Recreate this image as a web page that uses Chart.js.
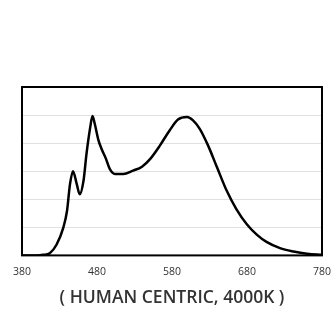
<!DOCTYPE html>
<html><head><meta charset="utf-8">
<script src="https://cdn.jsdelivr.net/npm/chart.js@4"></script>
<style>html,body{margin:0;padding:0;background:#fff}#wrap{width:336px;height:309px}</style>
</head><body><div id="wrap"><canvas id="c" width="336" height="309"></canvas></div>
<script>
const wavelengths = [380,400,408,417,426,435,440,444,448,453,457,462,466,471,474,477,482,486,492,497,504,515,528,540,551,564,577,588,600,608,617,628,640,653,666,680,693,706,724,742,760,780];
const intensity   = [0,0,0.02,0.08,0.38,0.98,1.58,2.54,3.0,2.54,2.18,2.66,3.62,4.57,4.97,4.69,4.10,3.8,3.44,3.08,2.90,2.90,3.02,3.16,3.44,3.92,4.46,4.84,4.93,4.81,4.51,3.92,3.14,2.30,1.64,1.10,0.74,0.48,0.26,0.14,0.06,0.02];
const xTicks = [380,480,580,680,780];
const titleText = '( HUMAN CENTRIC, 4000K )';

const boxPlugin = {
  id:'box',
  afterDatasetsDraw(chart){
    const {ctx, chartArea:a} = chart;
    ctx.save();
    ctx.strokeStyle = '#000';
    ctx.lineWidth = 2;
    ctx.strokeRect(a.left, a.top, a.right-a.left, a.bottom-a.top);
    ctx.restore();
  }
};

new Chart(document.getElementById('c'), {
  type:'line',
  data:{datasets:[{
    data: wavelengths.map((w,i)=>({x:w,y:intensity[i]})),
    borderColor:'#000', borderWidth:2.5, pointRadius:0, fill:false,
    cubicInterpolationMode:'monotone'
  }]},
  options:{
    responsive:false, animation:false,
    layout:{padding:{left:22,right:14,top:87,bottom:0}},
    plugins:{
      legend:{display:false}, tooltip:{enabled:false},
      title:{display:true, position:'bottom', text:titleText, color:'#333',
        font:{family:'Open Sans', size:17.5, weight:'600'}, padding:{top:8,bottom:0}}
    },
    scales:{
      x:{type:'linear', min:380, max:780,
        afterBuildTicks(s){ s.ticks = xTicks.map(v=>({value:v})); },
        grid:{display:false}, border:{display:false},
        ticks:{color:'#333', font:{family:'Open Sans', size:10.5}, padding:2, maxRotation:0}
      },
      y:{min:0, max:6, ticks:{display:false, stepSize:1},
        grid:{color:'#e0e0e0', lineWidth:1, drawTicks:false}, border:{display:false}}
    }
  },
  plugins:[boxPlugin]
});
</script></body></html>
